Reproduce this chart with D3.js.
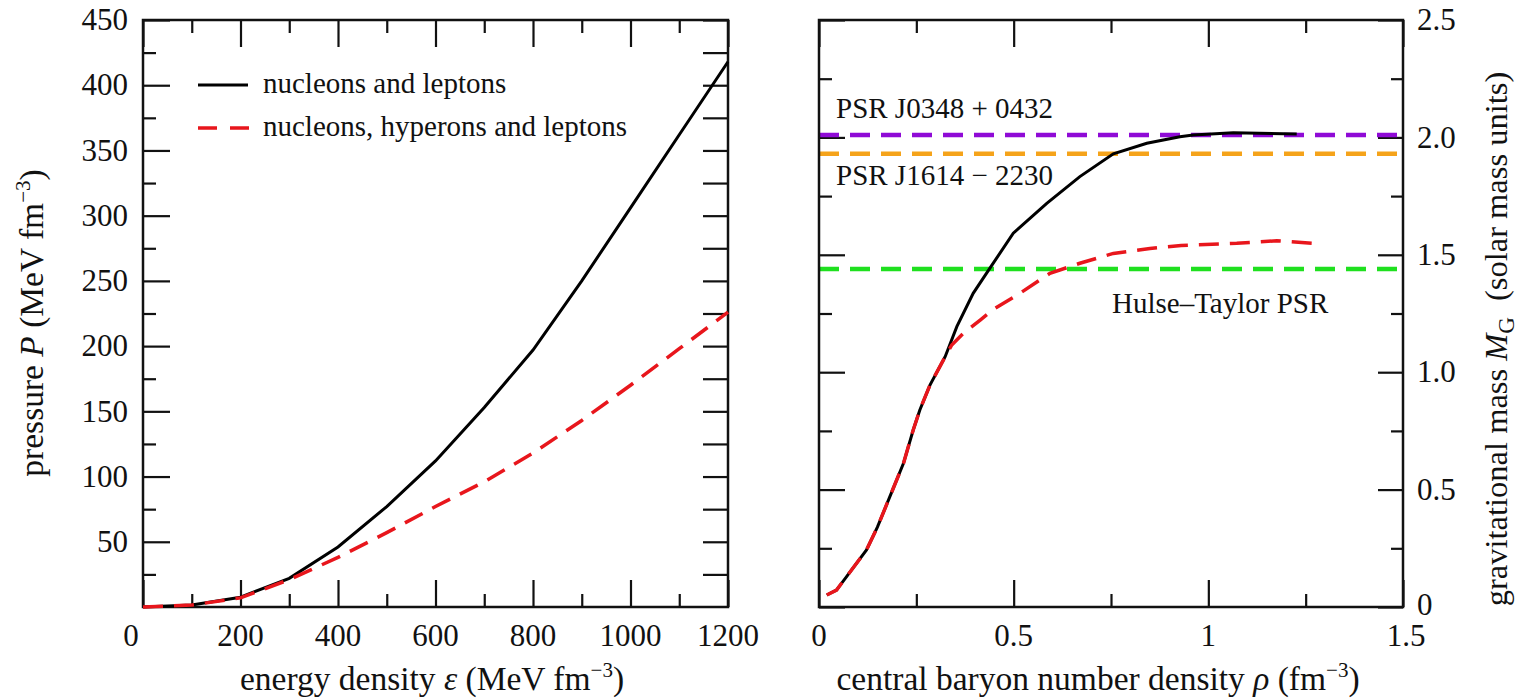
<!DOCTYPE html>
<html>
<head>
<meta charset="utf-8">
<script src="https://cdn.jsdelivr.net/npm/d3@7"></script>
<style>
  body { margin: 0; background: #fff; }
  svg text { font-family: "Liberation Serif", "Times New Roman", serif; fill: #111; }
</style>
</head>
<body>
<div id="container"></div>
<script>
// left panel: equation of state
const energyDensity = [0, 100, 200, 300, 400, 500, 600, 700, 800, 900, 1000, 1100, 1200];
const pressureNL = [0, 1.5, 7.5, 22, 46, 77, 112, 153, 197, 250, 306, 362, 418];
const pressureNHL = [0, 1.5, 7, 21, 38, 57, 77, 96, 118, 143, 170, 198, 226];

// right panel: mass vs central density
const rhoNL = [0.02, 0.045, 0.122, 0.15, 0.182, 0.217, 0.242, 0.259, 0.285, 0.324, 0.354, 0.396, 0.439, 0.499, 0.585, 0.67, 0.756, 0.842, 0.927, 0.961, 1.064, 1.227];
const massNL = [0.051, 0.072, 0.243, 0.34, 0.47, 0.612, 0.754, 0.839, 0.945, 1.066, 1.194, 1.336, 1.443, 1.592, 1.719, 1.833, 1.93, 1.975, 2.003, 2.01, 2.02, 2.014];
const rhoNHL = [0.02, 0.045, 0.122, 0.15, 0.182, 0.217, 0.242, 0.259, 0.285, 0.324, 0.341, 0.371, 0.414, 0.45, 0.516, 0.593, 0.67, 0.756, 0.85, 0.93, 1.073, 1.176, 1.27];
const massNHL = [0.051, 0.072, 0.243, 0.34, 0.47, 0.612, 0.754, 0.839, 0.945, 1.066, 1.116, 1.166, 1.222, 1.27, 1.336, 1.421, 1.464, 1.506, 1.527, 1.54, 1.549, 1.56, 1.549];

// observed pulsar masses
const pulsarNames = ["PSR J0348 + 0432", "PSR J1614 \u2212 2230", "Hulse\u2013Taylor PSR"];
const pulsarMasses = [2.01, 1.93, 1.44];
const pulsarColors = ["#8f0ad6", "#f5a31a", "#1fe01f"];

// ticks
const epsMajor = [0, 200, 400, 600, 800, 1000, 1200];
const epsMinor = [100, 300, 500, 700, 900, 1100];
const presMajor = [50, 100, 150, 200, 250, 300, 350, 400, 450];
const presMinor = [25, 75, 125, 175, 225, 275, 325, 375, 425];
const rhoMajor = [0, 0.5, 1, 1.5];
const rhoMinor = [0.25, 0.75, 1.25];
const massMajor = [0, 0.5, 1, 1.5, 2, 2.5];
const massMinor = [0.25, 0.75, 1.25, 1.75, 2.25];

const legendLabels = ["nucleons and leptons", "nucleons, hyperons and leptons"];

const W = 1521, H = 700;
const svg = d3.select("#container").append("svg").attr("width", W).attr("height", H);

const RED = "#e8161c";
const yTop = 20, yBot = 607;
const TITLE = 33.5;

function frameTicks(g, axisFn, scale, values, size) {
  g.call(axisFn(scale).tickValues(values).tickSize(size).tickFormat(""))
    .call(s => s.select(".domain").remove())
    .call(s => s.selectAll(".tick line").attr("stroke", "#111").attr("stroke-width", 2.2));
}

function richText(sel, parts) {
  // parts: [text, style, dx] where style = "i" italic, "sup", "sub", or ""
  parts.forEach(([t, st, dx]) => {
    const ts = sel.append("tspan").text(t);
    if (dx) ts.attr("dx", dx);
    if (st === "i") ts.attr("font-style", "italic");
    if (st === "sup") ts.attr("font-size", 21).attr("baseline-shift", "13");
    if (st === "sub") ts.attr("font-size", 23).attr("baseline-shift", "-7");
  });
}

// ---------------- left panel ----------------
const xL = d3.scaleLinear().domain([0, 1200]).range([143, 728]);
const yL = d3.scaleLinear().domain([0, 450]).range([yBot, yTop]);
const gL = svg.append("g");

frameTicks(gL.append("g").attr("transform", `translate(0,${yBot})`), d3.axisBottom, xL, epsMajor, -27);
frameTicks(gL.append("g").attr("transform", `translate(0,${yBot})`), d3.axisBottom, xL, epsMinor, -13);
frameTicks(gL.append("g").attr("transform", `translate(0,${yTop})`), d3.axisTop, xL, epsMajor, -27);
frameTicks(gL.append("g").attr("transform", `translate(0,${yTop})`), d3.axisTop, xL, epsMinor, -13);
frameTicks(gL.append("g").attr("transform", `translate(143,0)`), d3.axisLeft, yL, presMajor, -27);
frameTicks(gL.append("g").attr("transform", `translate(143,0)`), d3.axisLeft, yL, presMinor, -13);
frameTicks(gL.append("g").attr("transform", `translate(728,0)`), d3.axisRight, yL, presMajor.concat(presMinor), -25);

gL.append("rect").attr("x", 143).attr("y", yTop).attr("width", 728 - 143).attr("height", yBot - yTop)
  .attr("fill", "none").attr("stroke", "#111").attr("stroke-width", 2.5);

gL.selectAll(".xlab").data(epsMajor).join("text")
  .attr("x", d => xL(d) + (d === 0 ? -12 : 0)).attr("y", 646)
  .attr("text-anchor", "middle").attr("font-size", 31).text(d => d);
gL.selectAll(".ylab").data(presMajor).join("text")
  .attr("x", 128).attr("y", d => yL(d)).attr("dy", "0.33em")
  .attr("text-anchor", "end").attr("font-size", 31).text(d => d);

const lineL = (ys) => d3.line().x((d, i) => xL(energyDensity[i])).y(d => yL(d))(ys);
gL.append("path").attr("d", lineL(pressureNL)).attr("fill", "none").attr("stroke", "#000").attr("stroke-width", 3);
gL.append("path").attr("d", lineL(pressureNHL)).attr("fill", "none").attr("stroke", RED).attr("stroke-width", 3.5)
  .attr("stroke-dasharray", "20,11");

// legend
gL.append("line").attr("x1", 198).attr("x2", 248).attr("y1", 85).attr("y2", 85).attr("stroke", "#000").attr("stroke-width", 3);
gL.append("line").attr("x1", 198).attr("x2", 249).attr("y1", 128).attr("y2", 128).attr("stroke", RED).attr("stroke-width", 3.5)
  .attr("stroke-dasharray", "19,13");
gL.append("text").attr("x", 263).attr("y", 93).attr("font-size", 29).text(legendLabels[0]);
gL.append("text").attr("x", 263).attr("y", 136).attr("font-size", 29).text(legendLabels[1]);

// axis titles
richText(gL.append("text").attr("x", 432).attr("y", 690).attr("text-anchor", "middle").attr("font-size", TITLE),
  [["energy density ", ""], ["\u03b5", "i"], [" (MeV fm", ""], ["\u22123", "sup"], [")", ""]]);
richText(gL.append("text").attr("transform", "translate(43,323) rotate(-90)").attr("text-anchor", "middle").attr("font-size", TITLE),
  [["pressure ", ""], ["P", "i"], [" (MeV fm", ""], ["\u22123", "sup"], [")", ""]]);

// ---------------- right panel ----------------
const xR = d3.scaleLinear().domain([0, 1.5]).range([819, 1403]);
const yR = d3.scaleLinear().domain([0, 2.5]).range([yBot, yTop]);
const gR = svg.append("g");

frameTicks(gR.append("g").attr("transform", `translate(0,${yBot})`), d3.axisBottom, xR, rhoMajor, -27);
frameTicks(gR.append("g").attr("transform", `translate(0,${yBot})`), d3.axisBottom, xR, rhoMinor, -13);
frameTicks(gR.append("g").attr("transform", `translate(0,${yTop})`), d3.axisTop, xR, rhoMajor, -27);
frameTicks(gR.append("g").attr("transform", `translate(0,${yTop})`), d3.axisTop, xR, rhoMinor, -13);
frameTicks(gR.append("g").attr("transform", `translate(819,0)`), d3.axisLeft, yR, massMajor, -26);
frameTicks(gR.append("g").attr("transform", `translate(819,0)`), d3.axisLeft, yR, massMinor, -13);
frameTicks(gR.append("g").attr("transform", `translate(1403,0)`), d3.axisRight, yR, massMajor, -25);
frameTicks(gR.append("g").attr("transform", `translate(1403,0)`), d3.axisRight, yR, massMinor, -12);

// pulsar mass lines
gR.selectAll(".psr").data(pulsarMasses).join("line")
  .attr("x1", 819).attr("x2", 1403).attr("y1", d => yR(d)).attr("y2", d => yR(d))
  .attr("stroke", (d, i) => pulsarColors[i]).attr("stroke-width", 4.5).attr("stroke-dasharray", "20,11");

const lineR = (xs, ys) => d3.line().x((d, i) => xR(xs[i])).y(d => yR(d))(ys);
gR.append("path").attr("d", lineR(rhoNL, massNL)).attr("fill", "none").attr("stroke", "#000").attr("stroke-width", 3);
gR.append("path").attr("d", lineR(rhoNHL, massNHL)).attr("fill", "none").attr("stroke", RED).attr("stroke-width", 3.5)
  .attr("stroke-dasharray", "20,11");

gR.append("rect").attr("x", 819).attr("y", yTop).attr("width", 1403 - 819).attr("height", yBot - yTop)
  .attr("fill", "none").attr("stroke", "#111").attr("stroke-width", 2.5);

const psrLabelPos = [[836, 118], [836, 185], [1112, 313]];
gR.selectAll(".psrlab").data(pulsarNames).join("text")
  .attr("x", (d, i) => psrLabelPos[i][0]).attr("y", (d, i) => psrLabelPos[i][1])
  .attr("font-size", 29).text(d => d);

gR.selectAll(".xlab").data(rhoMajor).join("text")
  .attr("x", d => xR(d) + (d === 1.5 ? 3 : 0)).attr("y", 646)
  .attr("text-anchor", "middle").attr("font-size", 31).text(d => d);
gR.selectAll(".ylab").data(massMajor).join("text")
  .attr("x", 1417).attr("y", d => yR(d) - (d === 0 ? 2 : 0)).attr("dy", "0.33em")
  .attr("text-anchor", "start").attr("font-size", 31).text(d => d === 0 ? "0" : d3.format(".1f")(d));

richText(gR.append("text").attr("x", 1098).attr("y", 690).attr("text-anchor", "middle").attr("font-size", TITLE),
  [["central baryon number density ", ""], ["\u03c1", "i"], [" (fm", ""], ["\u22123", "sup"], [")", ""]]);
richText(gR.append("text").attr("transform", "translate(1507,339) rotate(-90)").attr("text-anchor", "middle").attr("font-size", 32.5),
  [["gravitational mass ", ""], ["M", "i"], ["G", "sub"], ["(solar mass units)", "", 16]]);
</script>
</body>
</html>
